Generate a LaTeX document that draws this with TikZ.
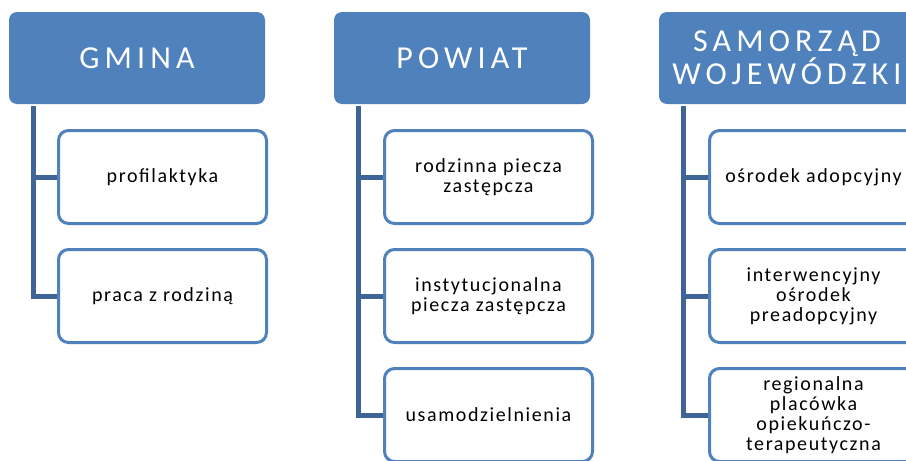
\documentclass[tikz,border=0pt]{standalone}
\usepackage{fontspec}
\setmainfont{Carlito}
\newfontfamily\headfont[LetterSpace=16]{Carlito}
\newfontfamily\itemfont[LetterSpace=8]{Carlito}
\usetikzlibrary{positioning}
\definecolor{headblue}{RGB}{79,129,189}
\definecolor{lineblue}{RGB}{63,100,151}
\tikzset{
    head/.style={rectangle, rounded corners=8pt, fill=headblue, text=white, minimum width=256pt, minimum height=92pt, align=center, font=\headfont\fontsize{32}{33}\selectfont}, % the three top boxes
    item/.style={rectangle, rounded corners=10pt, draw=headblue, line width=3pt, fill=white, minimum width=208pt, minimum height=93pt, align=center, font=\itemfont\fontsize{20}{20}\selectfont}, % the boxes below them
    conn/.style={draw=lineblue, line width=5pt}, % the dark lines
    }

\begin{document}
\begin{tikzpicture}
    \useasboundingbox (0,0) rectangle (906pt,-461pt);
    \clip (0,0) rectangle (906pt,-461pt);

    \node[head] at (137pt,-58pt) (GMINA) {GMINA};
    \node[head] at ([xshift=325pt]GMINA) (POWIAT) {POWIAT};
    \node[head] at ([xshift=325pt]POWIAT) (SAMORZAD) {SAMORZĄD\\WOJEWÓDZKI};

    \node[item] at ([xshift=25.5pt,yshift=-119pt]GMINA) (PROF) {profilaktyka};
    \node[item] at ([yshift=-119pt]PROF) (PRACA) {praca z rodziną};

    \node[item] at ([xshift=26.5pt,yshift=-119pt]POWIAT) (RODZ) {rodzinna piecza\\zastępcza};
    \node[item] at ([yshift=-119pt]RODZ) (INST) {instytucjonalna\\piecza zastępcza};
    \node[item] at ([yshift=-119pt]INST) (USAM) {usamodzielnienia};

    \node[item] at ([xshift=26.5pt,yshift=-119pt]SAMORZAD) (ADOP) {ośrodek adopcyjny};
    \node[item] at ([yshift=-119pt]ADOP) (PREADOP) {interwencyjny\\ośrodek\\preadopcyjny};
    \node[item] at ([yshift=-119pt]PREADOP) (REGION) {regionalna\\placówka\\opiekuńczo-\\terapeutyczna};

    \draw[conn] ([xshift=24.5pt,yshift=-2pt]GMINA.south west) |- (PROF.west);
    \draw[conn] ([xshift=24.5pt,yshift=-2pt]GMINA.south west) |- (PRACA.west);

    \draw[conn] ([xshift=24.5pt,yshift=-2pt]POWIAT.south west) |- (RODZ.west);
    \draw[conn] ([xshift=24.5pt,yshift=-2pt]POWIAT.south west) |- (INST.west);
    \draw[conn] ([xshift=24.5pt,yshift=-2pt]POWIAT.south west) |- (USAM.west);

    \draw[conn] ([xshift=24.5pt,yshift=-2pt]SAMORZAD.south west) |- (ADOP.west);
    \draw[conn] ([xshift=24.5pt,yshift=-2pt]SAMORZAD.south west) |- (PREADOP.west);
    \draw[conn] ([xshift=24.5pt,yshift=-2pt]SAMORZAD.south west) |- (REGION.west);
\end{tikzpicture}
\end{document}
